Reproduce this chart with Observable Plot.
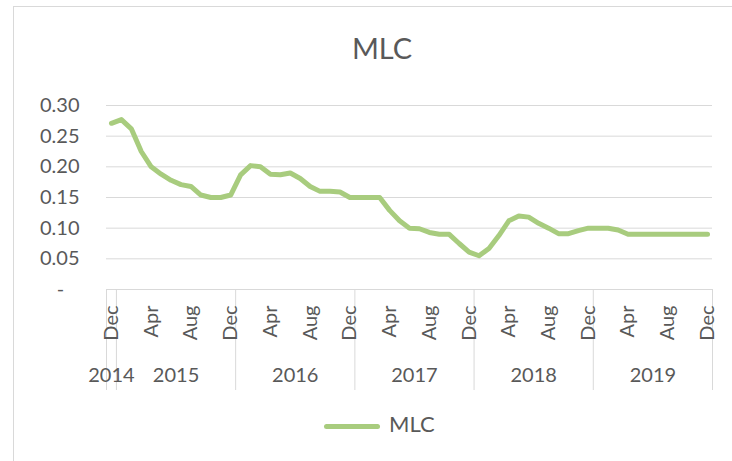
<!DOCTYPE html>
<html><head><meta charset="utf-8">
<script src="https://cdn.jsdelivr.net/npm/d3@7"></script>
<script src="https://cdn.jsdelivr.net/npm/@observablehq/plot@0.6"></script>
<style>
html,body{margin:0;padding:0;background:#fff;overflow:hidden;}
#wrap{position:relative;width:732px;height:461px;overflow:hidden;font-family:Lato,sans-serif;color:#595959;}
#border{position:absolute;left:13px;top:6px;width:800px;height:800px;border:1px solid #d9d9d9;box-sizing:border-box;}
#title{position:absolute;left:13px;width:738px;top:33px;text-align:center;font-size:29px;line-height:29px;}
#chart{position:absolute;left:0;top:0;}
#swatch{position:absolute;left:324px;top:424px;width:56px;height:5px;border-radius:3px;}
#legtext{position:absolute;left:389px;top:413px;font-size:22px;line-height:22px;}
</style>
</head><body>
<div id="wrap">
  <div id="border"></div>
  <div id="title">MLC</div>
  <div id="chart"></div>
  <div id="swatch"></div>
  <div id="legtext">MLC</div>
</div>
<script>
const seriesName = "MLC";
const lineColor = "#a8cc7e";
const monthNames = ["Jan","Feb","Mar","Apr","May","Jun","Jul","Aug","Sep","Oct","Nov","Dec"];
const years = [2014, 2015, 2016, 2017, 2018, 2019];
const yTicks = [0, 0.05, 0.10, 0.15, 0.20, 0.25, 0.30];
// Dec 2014 .. Dec 2019 (61 months)
const mlc = [
  0.271,
  0.277, 0.262, 0.225, 0.200, 0.188, 0.178, 0.171, 0.168, 0.154, 0.150, 0.150, 0.154,
  0.187, 0.202, 0.200, 0.188, 0.187, 0.190, 0.181, 0.168, 0.160, 0.160, 0.159, 0.150,
  0.150, 0.150, 0.150, 0.129, 0.112, 0.100, 0.099, 0.093, 0.090, 0.090, 0.075, 0.061,
  0.055, 0.067, 0.088, 0.112, 0.120, 0.118, 0.108, 0.100, 0.091, 0.091, 0.096, 0.100,
  0.100, 0.100, 0.097, 0.090, 0.090, 0.090, 0.090, 0.090, 0.090, 0.090, 0.090, 0.090
];

const categories = [];
years.forEach(y => monthNames.forEach(m => {
  if (y === 2014 && m !== "Dec") return;
  categories.push({month: m, year: y});
}));
const data = mlc.map((v, i) => ({i, v, ...categories[i]}));
const monthTicks = data.filter(d => d.i % 4 === 0);
const yearGroups = d3.groups(data, d => d.year).map(([year, arr]) => ({
  year: String(year),
  center: (arr[0].i + arr[arr.length - 1].i) / 2,
  start: arr[0].i - 0.5,
  end: arr[arr.length - 1].i + 0.5
}));
const boundaries = [...new Set(yearGroups.flatMap(g => [g.start, g.end]))];

document.getElementById("title").textContent = seriesName;
document.getElementById("legtext").textContent = seriesName;
document.getElementById("swatch").style.background = lineColor;

const chart = Plot.plot({
  width: 732, height: 461,
  marginTop: 105, marginBottom: 172, marginLeft: 106, marginRight: 20,
  style: {fontFamily: "Lato", fontSize: "20px", color: "#595959", background: "transparent"},
  x: {type: "linear", domain: [-0.5, mlc.length - 0.5], label: null},
  y: {domain: [0, 0.3], label: null},
  marks: [
    Plot.gridY(yTicks.filter(t => t > 0), {stroke: "#d9d9d9", strokeOpacity: 1, strokeWidth: 1}),
    Plot.ruleY([0], {stroke: "#d9d9d9", strokeWidth: 1}),
    Plot.axisY(yTicks, {tickSize: 0, tickPadding: 27, label: null, fill: "#595959",
      tickFormat: t => t === 0 ? "-\u00a0\u00a0\u00a0" : t.toFixed(2)}),
    Plot.axisX(boundaries, {tickSize: 101, tickFormat: () => "", stroke: "#d9d9d9", strokeOpacity: 1, label: null}),
    Plot.text(monthTicks, {x: "i", text: "month", frameAnchor: "bottom", rotate: -90,
      textAnchor: "end", lineAnchor: "middle", dy: 16, fill: "#595959", fontSize: 20}),
    Plot.text(yearGroups, {x: "center", text: "year", frameAnchor: "bottom", dy: 86,
      lineAnchor: "middle", fill: "#595959", fontSize: 20}),
    Plot.line(data, {x: "i", y: "v", stroke: lineColor, strokeWidth: 5,
      strokeLinejoin: "round", strokeLinecap: "round"})
  ]
});
document.getElementById("chart").appendChild(chart);
</script>
</body></html>
